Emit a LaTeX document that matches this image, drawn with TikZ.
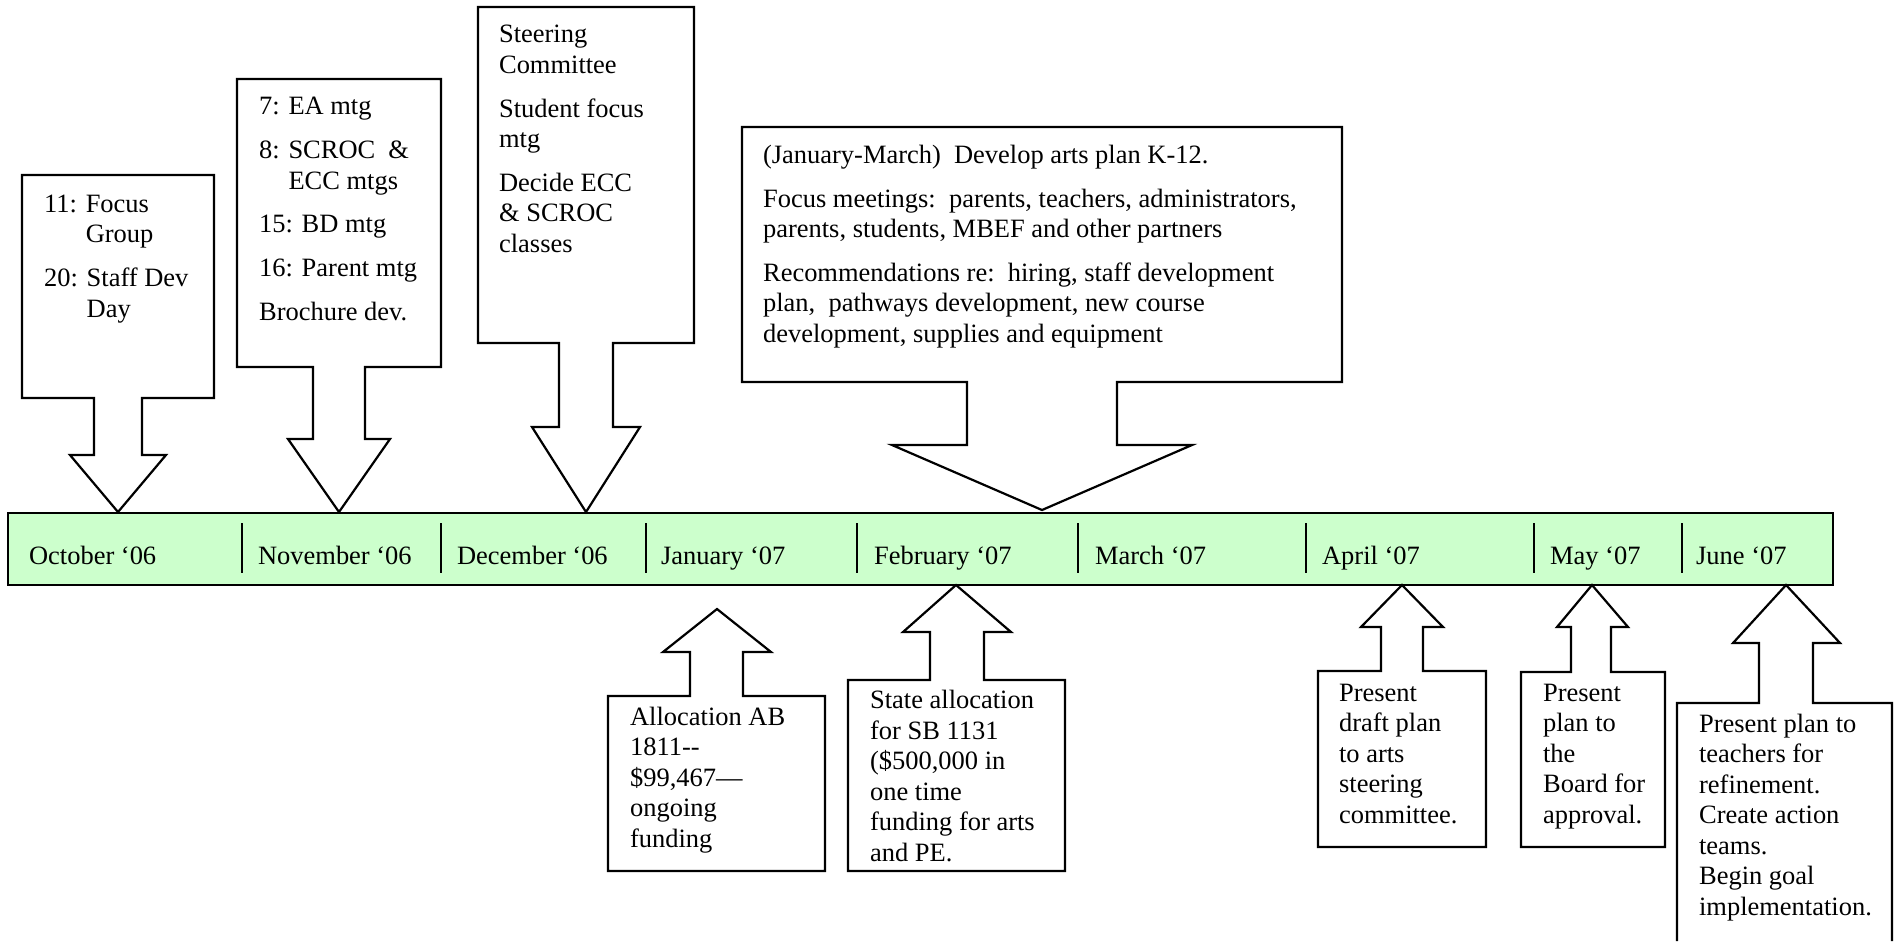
\documentclass[tikz,border=0pt]{standalone}
\usepackage{fontspec}
\setmainfont{Liberation Serif}
\usepackage{tikz}
\definecolor{barGreen}{HTML}{CCFFCC}

\begin{document}
\begin{tikzpicture}[x=0.4535pt, y=-0.4535pt, line width=1pt,
    callout/.style={draw, fill=white, line join=miter},
    txt/.style={anchor=base west, align=left, inner sep=0pt,
      font=\fontsize{12pt}{13.8pt}\selectfont},
    month/.style={anchor=base west, inner sep=0pt,
      font=\fontsize{12pt}{13.8pt}\selectfont}]
  \useasboundingbox (0,0) rectangle (1895,941);

  % the bar of months
  \draw[fill=barGreen] (8,513) rectangle (1833,585);
  \foreach \x in {242,441,646,857,1078,1306,1534,1682}
    \draw (\x,523) -- (\x,573);

  \node[month] (oct) at (28,564) {October ‘06};
  \node[month] (nov) at (257,564) {November ‘06};
  \node[month] (dec) at (456,564) {December ‘06};
  \node[month] (jan) at (660,564) {January ‘07};
  \node[month] (feb) at (873,564) {February ‘07};
  \node[month] (mar) at (1094,564) {March ‘07};
  \node[month] (apr) at (1321,564) {April ‘07};
  \node[month] (may) at (1549,564) {May ‘07};
  \node[month] (jun) at (1695,564) {June ‘07};

  % callouts above the bar (texts sit on their last line)
  \draw[callout] (22,175) -- (214,175) -- (214,398) -- (142,398) -- (142,455)
    -- (166,455) -- (118,512) -- (70,455) -- (94,455) -- (94,398) -- (22,398) -- cycle;
  \draw[callout] (237,79) -- (441,79) -- (441,367) -- (365,367) -- (365,439)
    -- (390,439) -- (339,512) -- (288,439) -- (313,439) -- (313,367) -- (237,367) -- cycle;
  \draw[callout] (478,7) -- (694,7) -- (694,343) -- (613,343) -- (613,427)
    -- (640,427) -- (586,512) -- (532,427) -- (559,427) -- (559,343) -- (478,343) -- cycle;
  \draw[callout] (742,127) -- (1342,127) -- (1342,382) -- (1117,382) -- (1117,445)
    -- (1192,445) -- (1042,510) -- (892,445) -- (967,445) -- (967,382) -- (742,382) -- cycle;

  \node[txt] (octTxt) at (43,317) {11: Focus\\
    \phantom{11: }Group\\[6pt]
    20: Staff Dev\\
    \phantom{20: }Day};
  \node[txt] (novTxt) at (258,320) {7: EA mtg\\[6pt]
    8: SCROC\ \ \&\\
    \phantom{8: }ECC mtgs\\[6pt]
    15: BD mtg\\[6pt]
    16: Parent mtg\\[6pt]
    Brochure dev.};
  \node[txt] (decTxt) at (498,252) {Steering\\
    Committee\\[6pt]
    Student focus\\
    mtg\\[6pt]
    Decide ECC\\
    \& SCROC\\
    classes};
  \node[txt] (planTxt) at (762,342) {(January-March)\ \ Develop arts plan K-12.\\[6pt]
    Focus meetings:\ \ parents, teachers, administrators,\\
    parents, students, MBEF and other partners\\[6pt]
    Recommendations re:\ \ hiring, staff development\\
    plan,\ \ pathways development, new course\\
    development, supplies and equipment};

  % callouts below the bar
  \draw[callout] (608,871) -- (608,696) -- (690,696) -- (690,652) -- (663,652)
    -- (717,609) -- (771,652) -- (743,652) -- (743,696) -- (825,696) -- (825,871) -- cycle;
  \draw[callout] (848,871) -- (848,680) -- (930,680) -- (930,632) -- (903,632)
    -- (956,585) -- (1011,632) -- (984,632) -- (984,680) -- (1065,680) -- (1065,871) -- cycle;
  \draw[callout] (1318,847) -- (1318,671) -- (1381,671) -- (1381,627) -- (1361,627)
    -- (1402,585) -- (1443,627) -- (1423,627) -- (1423,671) -- (1486,671) -- (1486,847) -- cycle;
  \draw[callout] (1521,847) -- (1521,672) -- (1571,672) -- (1571,627) -- (1557,627)
    -- (1592,585) -- (1628,627) -- (1611,627) -- (1611,672) -- (1665,672) -- (1665,847) -- cycle;
  \fill[white] (1677,941) -- (1677,703) -- (1759,703) -- (1759,643) -- (1733,643)
    -- (1786,585) -- (1840,643) -- (1813,643) -- (1813,703) -- (1892,703) -- (1892,941) -- cycle;
  \draw (1677,941) -- (1677,703) -- (1759,703) -- (1759,643) -- (1733,643)
    -- (1786,585) -- (1840,643) -- (1813,643) -- (1813,703) -- (1892,703) -- (1892,941);

  \node[txt] (janTxt) at (629,847) {Allocation AB\\
    1811-{}-\\
    \$99,467—\\
    ongoing\\
    funding};
  \node[txt] (febTxt) at (869,861) {State allocation\\
    for SB 1131\\
    (\$500,000 in\\
    one time\\
    funding for arts\\
    and PE.};
  \node[txt] (aprTxt) at (1338,823) {Present\\
    draft plan\\
    to arts\\
    steering\\
    committee.};
  \node[txt] (mayTxt) at (1542,823) {Present\\
    plan to\\
    the\\
    Board for\\
    approval.};
  \node[txt] (junTxt) at (1698,915) {Present plan to\\
    teachers for\\
    refinement.\\
    Create action\\
    teams.\\
    Begin goal\\
    implementation.};
\end{tikzpicture}
\end{document}
